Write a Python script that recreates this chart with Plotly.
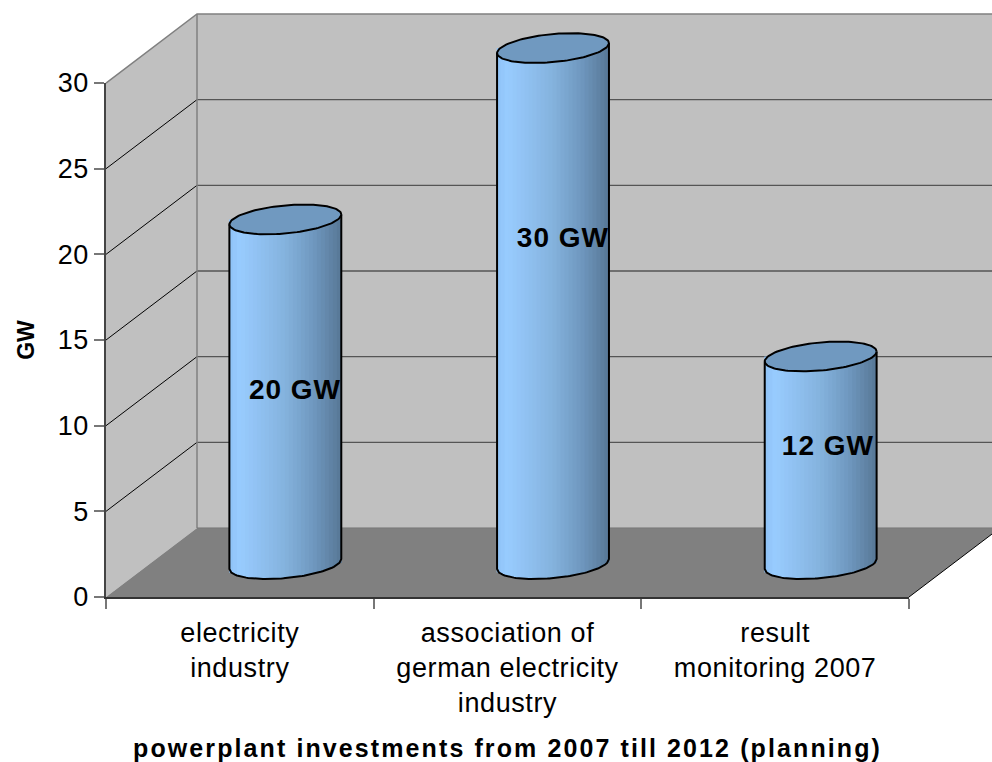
import numpy as np
import plotly.graph_objects as go

CATEGORIES = ["electricity<br>industry", "association of<br>german electricity<br>industry", "result<br>monitoring 2007"]
VALUES_GW = [20, 30, 12]
VALUE_LABELS = ["20 GW", "30 GW", "12 GW"]
Y_TICKS = [0, 5, 10, 15, 20, 25, 30]
Y_TITLE = "GW"
X_TITLE = "powerplant investments from 2007 till 2012 (planning)"

# pseudo-3D geometry, in axis units (x: one category = 1, y: GW)
DX, DY = 0.34, 4.03
RX, RY, TILT = 0.209, 0.82, 0.29
BOTTOM_C, TOP_C = 1.92, 2.04
LABEL_X = [0.706, 1.707, 2.697]
LABEL_Y = [11.96, 20.84, 8.70]
N_STRIPES = 28
STOPS = [(0, (0x8F, 0xC3, 0xF7)), (.1, (0x99, 0xCC, 0xFF)), (.5, (0x85, 0xB3, 0xDE)),
         (.75, (0x70, 0x99, 0xC0)), (1, (0x58, 0x78, 0x96))]
FONT = "Liberation Sans, Arial, sans-serif"
X_MAX, Y_MAX = 3, 30
Y_FULL = Y_MAX + DY


def shade(p):
    xs = [s[0] for s in STOPS]
    return "rgb(%d,%d,%d)" % tuple(np.interp(p, xs, [s[1][k] for s in STOPS]) for k in range(3))


def path(points, close=True):
    s = "M " + " L ".join(f"{x / X_MAX:.5f} {y / Y_FULL:.5f}" for x, y in points)
    return s + (" Z" if close else "")


def poly(points, fill=None, line=None, width=0, close=True):
    return dict(type="path", xref="paper", yref="paper", layer="below", path=path(points, close),
                fillcolor=fill if fill else "rgba(0,0,0,0)",
                line=dict(color=line if line else "rgba(0,0,0,0)", width=width))


shapes = [
    poly([(0, 0), (DX, DY), (DX, Y_MAX + DY), (0, Y_MAX)], "#C0C0C0"),
    poly([(DX, DY), (X_MAX + DX, DY), (X_MAX + DX, Y_MAX + DY), (DX, Y_MAX + DY)], "#C0C0C0"),
    poly([(0, 0), (X_MAX, 0), (X_MAX + DX, DY), (DX, DY)], "#808080"),
]
for v in Y_TICKS[1:-1]:
    shapes.append(poly([(0, v), (DX, v + DY)], line="#000000", width=1, close=False))
    shapes.append(poly([(DX, v + DY), (X_MAX + DX, v + DY)], line="#555555", width=1.3, close=False))
shapes += [
    poly([(0, Y_MAX), (DX, Y_MAX + DY), (X_MAX + DX, Y_MAX + DY)], line="#808080", width=1.5, close=False),
    poly([(DX, DY), (DX, Y_MAX + DY)], line="#808080", width=1.5, close=False),
    poly([(DX, DY), (X_MAX + DX, DY)], line="#777777", width=1, close=False),
    poly([(X_MAX, 0), (X_MAX + DX, DY)], line="#000000", width=1, close=False),
]

fig = go.Figure()
centers = np.arange(len(VALUES_GW)) + 0.5 + DX / 2
values = np.array(VALUES_GW, dtype=float)

# invisible trace that keeps the visible tick axis attached to the values
fig.add_trace(go.Scatter(x=centers, y=values, mode="markers", marker=dict(opacity=0),
                         showlegend=False, hoverinfo="skip", yaxis="y"))

# cylinder bodies: vertical stripes, each one a bar reaching the value
edges = np.linspace(-1, 1, N_STRIPES + 1)
for k in range(N_STRIPES):
    u = (edges[k] + edges[k + 1]) / 2
    base = BOTTOM_C + TILT * u - RY * np.sqrt(1 - u * u)
    top = values + TOP_C
    fig.add_trace(go.Bar(
        x=centers + u * RX, y=top - base, base=[base] * len(values), yaxis="y2",
        width=2 * RX / N_STRIPES * 1.2, marker=dict(color=shade((u + 1) / 2), line=dict(width=0)),
        showlegend=False, hoverinfo="skip"))

t = np.linspace(0, 2 * np.pi, 121)
low = np.linspace(-1, 1, 61)
for cx, v in zip(centers, values):
    # outline: left side, bottom arc, right side
    by = BOTTOM_C + TILT * low - RY * np.sqrt(1 - low ** 2)
    tc = v + TOP_C
    ox = np.concatenate([[cx - RX], cx + RX * low, [cx + RX]])
    oy = np.concatenate([[tc - TILT], by, [tc + TILT]])
    fig.add_trace(go.Scatter(x=ox, y=oy, mode="lines", yaxis="y2", line=dict(color="#000000", width=2),
                             showlegend=False, hoverinfo="skip"))
    # top ellipse
    ex = cx + RX * np.cos(t)
    ey = tc + TILT * np.cos(t) + RY * np.sin(t)
    fig.add_trace(go.Scatter(x=ex, y=ey, mode="lines", yaxis="y2", fill="toself", fillcolor="#7099C0",
                             line=dict(color="#000000", width=2),
                             showlegend=False, hoverinfo="skip"))

fig.add_trace(go.Scatter(x=LABEL_X, y=LABEL_Y, mode="text", text=VALUE_LABELS, textposition="middle center",
                         yaxis="y2", textfont=dict(family=FONT, size=28, color="#000000"),
                         texttemplate="<b>%{text}</b>",
                         showlegend=False, hoverinfo="skip"))

fig.update_layout(
    width=992, height=762, paper_bgcolor="#FFFFFF", plot_bgcolor="rgba(0,0,0,0)",
    margin=dict(l=106, r=83, t=14, b=165, autoexpand=False),
    barmode="overlay", showlegend=False, shapes=shapes,
    font=dict(family=FONT, color="#000000"),
    xaxis=dict(range=[0, X_MAX], tickmode="array", tickvals=[0.5, 1.5, 2.5], ticktext=CATEGORIES,
               ticks="", tickfont=dict(size=27), showgrid=False, zeroline=False, fixedrange=True,
               showline=True, linecolor="#333333", linewidth=1.5, tickangle=0, anchor="y",
               ticklabelstandoff=11,
               minor=dict(tick0=0, dtick=1, ticks="outside", ticklen=10, tickcolor="#777777", tickwidth=1.5, showgrid=False),
               title=dict(text=f"<b>{X_TITLE}</b>", font=dict(size=25), standoff=24)),
    yaxis=dict(domain=[0, Y_MAX / Y_FULL], range=[0, Y_MAX], tickmode="array", tickvals=Y_TICKS,
               ticks="outside", ticklen=10, tickcolor="#777777", tickwidth=1.5, tickfont=dict(size=27),
               showgrid=False, zeroline=False, fixedrange=True, showline=True, linecolor="#444444",
               linewidth=1.5, anchor="x",
               title=dict(text=f"<b>{Y_TITLE}</b>", font=dict(size=23), standoff=18)),
    yaxis2=dict(domain=[0, 1], range=[0, Y_FULL], visible=False, anchor="x", fixedrange=True),
)

CSS = (".xtick text{letter-spacing:.6px}.ytick text{letter-spacing:.5px}"
       ".g-xtitle text{letter-spacing:2.1px}.textpoint text{letter-spacing:1px}")
POST = ("document.body.style.margin='0';var s=document.createElement('style');"
        f"s.textContent='{CSS}';document.head.appendChild(s);")
fig.write_html("out.html", post_script=POST, config=dict(displayModeBar=False))
